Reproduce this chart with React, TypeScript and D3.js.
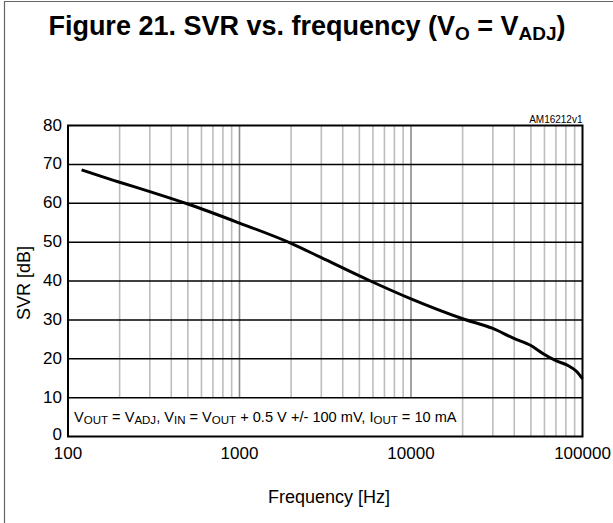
import React from 'react';
import * as d3 from 'd3';

// curve (frequency in Hz, SVR in dB)
const freqHz = [120, 200, 300, 500, 1000, 2000, 3000, 5800, 10000, 20000, 30000, 39500, 50000, 59000, 70000, 82700, 92500, 100000];
const svrDb = [68.6, 65.4, 63.0, 59.8, 54.9, 49.7, 46.0, 40.0, 35.4, 30.3, 27.8, 25.3, 23.4, 21.3, 19.5, 18.2, 16.7, 14.8];

const yTicks = [0, 10, 20, 30, 40, 50, 60, 70, 80];
const xTicks = [100, 1000, 10000, 100000];
const xTickLabels = ['100', '1000', '10000', '100000'];
const decades = [100, 1000, 10000];
const minorSteps = [2, 3, 4, 5, 6, 7, 8, 9];

const W = 613;
const H = 523;
const font = 'Liberation Sans, Arial, sans-serif';

const App = () => {
    const x = d3.scaleLog().domain([100, 100000]).range([68, 582.5]);
    const y = d3.scaleLinear().domain([0, 80]).range([436.5, 125.5]);
    const [x0, x1] = x.range();
    const [y0, y1] = y.range();

    const minor: number[] = [];
    decades.forEach(d => minorSteps.forEach(k => minor.push(d * k)));

    const line = d3.line<number>()
        .x((_, i) => x(freqHz[i]))
        .y(d => y(d))
        .curve(d3.curveMonotoneX);

    return (
        <div style={{ position: 'absolute', left: 0, top: 0 }}>
            <svg width={W} height={H} style={{ display: 'block' }} fontFamily={font}>
                <rect width={W} height={H} fill="#fff" />
                {/* outer figure frame (only left/top visible) */}
                <path d={`M4.5,${H + 5} V1.5 H${W + 5}`} fill="none" stroke="#666" strokeWidth={1.2} />

                <text x={307} y={35} textAnchor="middle" fontSize={27} fontWeight="bold" fill="#000">
                    Figure 21. SVR vs. frequency (V
                    <tspan fontSize={19} dy={5}>O</tspan>
                    <tspan dy={-5}> = V</tspan>
                    <tspan fontSize={19} dy={5}>ADJ</tspan>
                    <tspan dy={-5}>)</tspan>
                </text>

                {/* minor log grid */}
                {minor.map(f => (
                    <line key={f} x1={x(f)} x2={x(f)} y1={y1} y2={y0} stroke="#bdbdbd" strokeWidth={1.6} />
                ))}
                {[1000, 10000].map(f => (
                    <line key={f} x1={x(f)} x2={x(f)} y1={y1} y2={y0} stroke="#8c8c8c" strokeWidth={1.6} />
                ))}

                {/* annotation box hides grid in lowest band */}
                <rect x={x0} y={y(10)} width={x(19000) - x0 - 2} height={y(0) - y(10)} fill="#fff" />

                {yTicks.slice(1, -1).map(t => (
                    <line key={t} x1={x0} x2={x1} y1={y(t)} y2={y(t)} stroke="#000" strokeWidth={1.5} />
                ))}

                <path d={line(svrDb) || ''} fill="none" stroke="#000" strokeWidth={3} />

                <rect x={x0} y={y1} width={x1 - x0} height={y0 - y1} fill="none" stroke="#000" strokeWidth={2} />

                <text x={74} y={422} fontSize={14.6} fill="#000">
                    V<tspan fontSize={11.5} dy={2}>OUT</tspan>
                    <tspan dy={-2}> = V</tspan><tspan fontSize={11.5} dy={2}>ADJ</tspan>
                    <tspan dy={-2}>, V</tspan><tspan fontSize={11.5} dy={2}>IN</tspan>
                    <tspan dy={-2}> = V</tspan><tspan fontSize={11.5} dy={2}>OUT</tspan>
                    <tspan dy={-2}> + 0.5 V +/- 100 mV, I</tspan><tspan fontSize={11.5} dy={2}>OUT</tspan>
                    <tspan dy={-2}> = 10 mA</tspan>
                </text>

                <text x={x1} y={122.5} textAnchor="end" fontSize={10} fill="#000">AM16212v1</text>

                {yTicks.map(t => (
                    <text key={t} x={62} y={y(t) + (t === 0 ? 3 : 5)} textAnchor="end" fontSize={17} fill="#000">{t}</text>
                ))}
                {xTicks.map((t, i) => (
                    <text key={t} x={x(t)} y={459} textAnchor="middle" fontSize={17} fill="#000">{xTickLabels[i]}</text>
                ))}

                <text transform="translate(30,283) rotate(-90)" textAnchor="middle" fontSize={18} fill="#000">SVR [dB]</text>
                <text x={329} y={503} textAnchor="middle" fontSize={18} fill="#000">Frequency [Hz]</text>
            </svg>
        </div>
    );
};

export default App;
